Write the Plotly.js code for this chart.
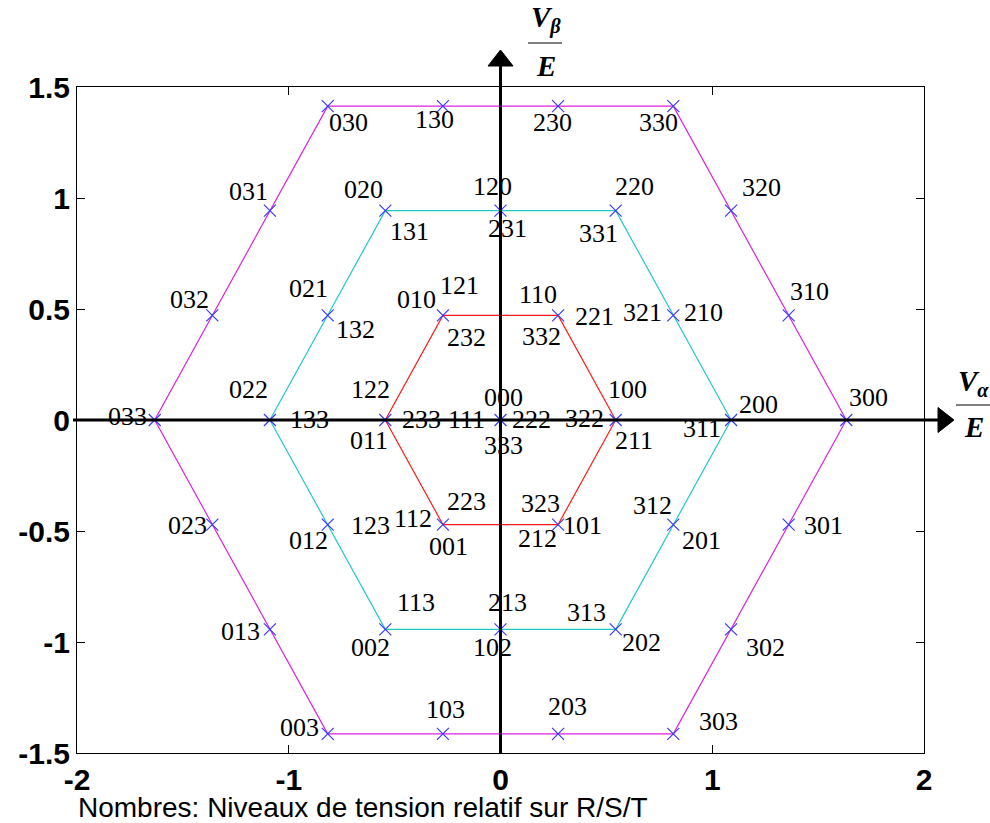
<!DOCTYPE html>
<html>
<head>
<meta charset="utf-8">
<script src="https://cdn.plot.ly/plotly-3.0.1.min.js"></script>
<style>
  html, body { margin: 0; padding: 0; background: #ffffff; }
  #chart { width: 990px; height: 823px; }
</style>
</head>
<body>
<div id="chart"></div>
<script>
// ---------------- DATA ----------------
// hexagon outlines (closed)
const hexOuterX = [1.633, 0.816, -0.816, -1.633, -0.816, 0.816, 1.633];
const hexOuterY = [0, 1.414, 1.414, 0, -1.414, -1.414, 0];
const hexMidX   = [1.089, 0.544, -0.544, -1.089, -0.544, 0.544, 1.089];
const hexMidY   = [0, 0.943, 0.943, 0, -0.943, -0.943, 0];
const hexInnerX = [0.544, 0.272, -0.272, -0.544, -0.272, 0.272, 0.544];
const hexInnerY = [0, 0.471, 0.471, 0, -0.471, -0.471, 0];

// voltage vectors (marker positions) and the switching-state labels at each
const vecX = [0, 0.544, 0.272, -0.272, -0.544, -0.272, 0.272,
              1.089, 0.816, 0.544, 0, -0.544, -0.816, -1.089, -0.816, -0.544, 0, 0.544, 0.816,
              1.633, 1.361, 1.089, 0.816, 0.272, -0.272, -0.816, -1.089, -1.361, -1.633,
              -1.361, -1.089, -0.816, -0.272, 0.272, 0.816, 1.089, 1.361];
const vecY = [0, 0, 0.471, 0.471, 0, -0.471, -0.471,
              0, 0.471, 0.943, 0.943, 0.943, 0.471, 0, -0.471, -0.943, -0.943, -0.943, -0.471,
              0, 0.471, 0.943, 1.414, 1.414, 1.414, 1.414, 0.943, 0.471, 0,
              -0.471, -0.943, -1.414, -1.414, -1.414, -1.414, -0.943, -0.471];
const vecLabels = [
  ["000", "111", "222", "333"],
  ["100", "322", "211"],
  ["110", "332", "221"],
  ["010", "121", "232"],
  ["122", "233", "011"],
  ["223", "112", "001"],
  ["323", "101", "212"],
  ["200", "311"],
  ["321", "210"],
  ["220", "331"],
  ["120", "231"],
  ["020", "131"],
  ["021", "132"],
  ["022", "133"],
  ["012", "123"],
  ["113", "002"],
  ["213", "102"],
  ["313", "202"],
  ["312", "201"],
  ["300"], ["310"], ["320"], ["330"], ["230"], ["130"], ["030"],
  ["031"], ["032"], ["033"], ["023"], ["013"], ["003"], ["103"],
  ["203"], ["303"], ["302"], ["301"]
];

const xTickVals = [-2, -1, 0, 1, 2];
const xTickText = ["-2", "-1", "0", "1", "2"];
const yTickVals = [-1.5, -1, -0.5, 0, 0.5, 1, 1.5];
const yTickText = ["-1.5", "-1", "-0.5", "0", "0.5", "1", "1.5"];

const footerText = "Nombres: Niveaux de tension relatif sur R/S/T";

// ---------------- LAYOUT / STYLE ----------------
const W = 990, H = 823;
const M = { l: 77, r: 66, t: 87, b: 70 };
const PW = W - M.l - M.r, PH = H - M.t - M.b;
const xRange = [-2, 2], yRange = [-1.5, 1.5];
const PX = px => (px - M.l) / PW;          // pixel -> paper x
const PY = py => (M.t + PH - py) / PH;      // pixel -> paper y

// label offsets from their point, in pixels (dx right, dy down)
const labelOffset = {
  "000": [3, -21], "111": [-34, 1], "222": [31, 1], "333": [3, 27],
  "100": [12, -29], "322": [-31, 0], "211": [18, 22],
  "110": [-20, -19], "332": [-17, 23], "221": [36, 3],
  "010": [-26, -14], "121": [17, -28], "232": [24, 24],
  "122": [-15, -29], "233": [36, 1], "011": [-16, 22],
  "223": [24, -21], "112": [-30, -4], "001": [6, 24],
  "323": [-18, -19], "101": [24, 3], "212": [-21, 16],
  "200": [27, -14], "311": [-29, 10],
  "321": [-31, -1], "210": [30, -1],
  "220": [19, -22], "331": [-17, 25],
  "120": [-8, -22], "231": [7, 20],
  "020": [-22, -19], "131": [24, 23],
  "021": [-19, -25], "132": [28, 16],
  "022": [-21, -29], "133": [40, 1],
  "012": [-19, 18], "123": [43, 3],
  "113": [31, -25], "002": [-15, 20],
  "213": [7, -25], "102": [-8, 20],
  "313": [-29, -15], "202": [26, 15],
  "312": [-21, -17], "201": [28, 18],
  "300": [22, -21], "310": [21, -22], "320": [30, -21], "330": [-15, 18],
  "230": [-6, 18], "130": [-8, 15], "030": [21, 18], "031": [-21, -17],
  "032": [-23, -14], "033": [-27, -2], "023": [-25, 3], "013": [-29, 4],
  "003": [-28, -4], "103": [3, -22], "203": [9, -25], "303": [45, -10],
  "302": [34, 20], "301": [35, 3]
};

const serif = "Liberation Serif, Times New Roman, serif";
const sans = "Liberation Sans, Arial, sans-serif";

const traces = [
  { x: hexOuterX, y: hexOuterY, mode: "lines", line: { color: "#dd22dd", width: 1.2 }, hoverinfo: "skip" },
  { x: hexMidX, y: hexMidY, mode: "lines", line: { color: "#22c8c8", width: 1.2 }, hoverinfo: "skip" },
  { x: hexInnerX, y: hexInnerY, mode: "lines", line: { color: "#ff1a1a", width: 1.2 }, hoverinfo: "skip" },
  { x: vecX, y: vecY, mode: "markers", hoverinfo: "skip",
    marker: { symbol: "x-thin", size: 12, color: "#3a3aff", line: { color: "#3a3aff", width: 1.2 } } }
];

const annotations = [];
vecLabels.forEach((labs, i) => {
  labs.forEach(t => {
    const o = labelOffset[t] || [0, 0];
    annotations.push({
      x: vecX[i], y: vecY[i], xref: "x", yref: "y", text: t, showarrow: false,
      xanchor: "center", yanchor: "middle", xshift: o[0], yshift: -o[1] + 2,
      font: { family: serif, size: 26, color: "#000" }
    });
  });
});

// axis-name fractions
const axFont = { family: serif, size: 29, color: "#000", weight: "bold", style: "italic" };
annotations.push(
  { xref: "paper", yref: "paper", x: PX(546), y: PY(19), text: "<b><i>V<sub>β</sub></i></b>",
    showarrow: false, xanchor: "center", yanchor: "middle", font: axFont },
  { xref: "paper", yref: "paper", x: PX(546), y: PY(66), text: "<b><i>E</i></b>",
    showarrow: false, xanchor: "center", yanchor: "middle", font: axFont },
  { xref: "paper", yref: "paper", x: PX(973), y: PY(383), text: "<b><i>V<sub>α</sub></i></b>",
    showarrow: false, xanchor: "center", yanchor: "middle", font: axFont },
  { xref: "paper", yref: "paper", x: PX(974), y: PY(427), text: "<b><i>E</i></b>",
    showarrow: false, xanchor: "center", yanchor: "middle", font: axFont },
  { xref: "paper", yref: "paper", x: PX(76), y: PY(807), text: footerText,
    showarrow: false, xanchor: "left", yanchor: "middle",
    font: { family: sans, size: 28, color: "#000" } }
);

// axis arrows through the origin
const x0p = (0 - xRange[0]) / (xRange[1] - xRange[0]);
const y0p = (0 - yRange[0]) / (yRange[1] - yRange[0]);
const hwX = 12.5 / PW, hwY = 12.5 / PH;
const shapes = [
  { type: "line", xref: "paper", yref: "paper", x0: x0p, x1: x0p, y0: 0, y1: PY(64),
    line: { color: "#000", width: 3 }, layer: "above" },
  { type: "path", xref: "paper", yref: "paper", layer: "above",
    path: `M ${x0p - hwX} ${PY(66)} L ${x0p + hwX} ${PY(66)} L ${x0p} ${PY(50)} Z`,
    fillcolor: "#000", line: { color: "#000", width: 1 } },
  { type: "line", xref: "paper", yref: "paper", x0: PX(73), x1: PX(940), y0: y0p, y1: y0p,
    line: { color: "#000", width: 3 }, layer: "above" },
  { type: "path", xref: "paper", yref: "paper", layer: "above",
    path: `M ${PX(938)} ${y0p - hwY} L ${PX(938)} ${y0p + hwY} L ${PX(954)} ${y0p} Z`,
    fillcolor: "#000", line: { color: "#000", width: 1 } },
  // fraction bars
  { type: "line", xref: "paper", yref: "paper", x0: PX(528), x1: PX(562), y0: PY(43), y1: PY(43),
    line: { color: "#000", width: 1.2 } },
  { type: "line", xref: "paper", yref: "paper", x0: PX(956), x1: PX(990), y0: PY(405), y1: PY(405),
    line: { color: "#000", width: 1.2 } }
];

const axisCommon = {
  showgrid: false, zeroline: false, showline: true, linecolor: "#000", linewidth: 1,
  mirror: "ticks", ticks: "inside", ticklen: 8, tickwidth: 1, tickcolor: "#000",
  tickmode: "array", fixedrange: true,
  tickfont: { family: sans, size: 30, color: "#000", weight: "bold" }
};

const layout = {
  width: W, height: H,
  margin: M,
  paper_bgcolor: "#fff", plot_bgcolor: "#fff",
  showlegend: false,
  xaxis: Object.assign({}, axisCommon, { range: xRange, tickvals: xTickVals, ticktext: xTickText }),
  yaxis: Object.assign({}, axisCommon, { range: yRange, tickvals: yTickVals, ticktext: yTickText }),
  annotations: annotations,
  shapes: shapes
};

Plotly.newPlot("chart", traces, layout, { displayModeBar: false, staticPlot: true });
</script>
</body>
</html>
